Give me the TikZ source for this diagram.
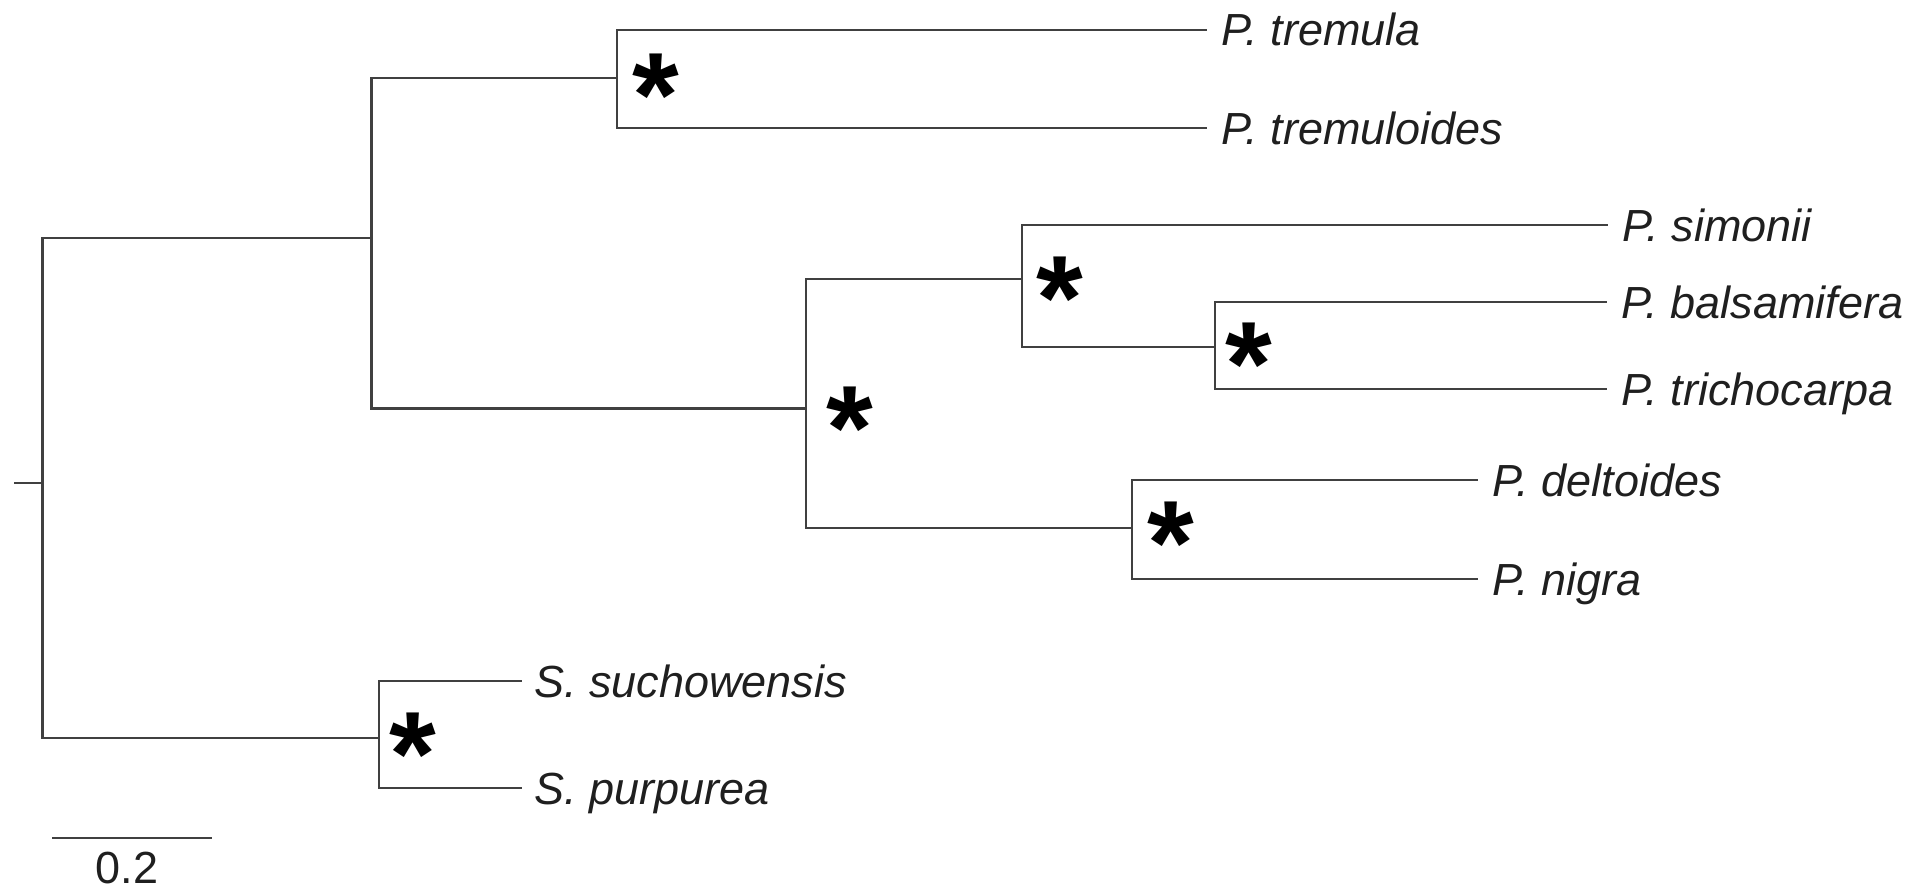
\documentclass[tikz,border=0pt]{standalone}
\usepackage{fontspec}
\setmainfont{Liberation Sans}
\usetikzlibrary{calc}
\begin{document}
\begin{tikzpicture}[x=0.5pt,y=-0.5pt,
  branch/.style={draw=black!75, line width=1.2pt},
  taxon/.style={anchor=base west, inner sep=0pt, text=black!88,
    font=\fontsize{22.5}{22.5}\selectfont\itshape},
  support/.style={anchor=base, inner sep=0pt,
    font=\fontsize{60}{60}\selectfont\bfseries},
  scalelabel/.style={anchor=base, inner sep=0pt, text=black!88,
    font=\fontsize{22.5}{22.5}\selectfont}]
\useasboundingbox (0,0) rectangle (1927,894);

% internal nodes (x = depth, y = attachment height)
\coordinate (stub) at (14,483);
\coordinate (R) at (42.4,483);
\coordinate (A) at (371.4,237.7);
\coordinate (B) at (617,77.7);
\coordinate (D) at (806,408.3);
\coordinate (E) at (1022,279);
\coordinate (F) at (1215,347);
\coordinate (G) at (1132,528);
\coordinate (S) at (379,738);

% leaf tips
\coordinate (tTrem) at (1207,30);
\coordinate (tTremd) at (1207,128);
\coordinate (tSim) at (1608,225);
\coordinate (tBal) at (1607,302);
\coordinate (tTri) at (1607,389);
\coordinate (tDel) at (1478,480);
\coordinate (tNig) at (1478,579);
\coordinate (tSuc) at (522,681);
\coordinate (tPur) at (522,788);

% branches
\draw[branch] (stub) -- (R);
\draw[branch] (R) |- (A);
\draw[branch] (R) |- (S);
\draw[branch] (A) |- (B);
\draw[branch] (A) |- (D);
\draw[branch] (B) |- (tTrem);
\draw[branch] (B) |- (tTremd);
\draw[branch] (D) |- (E);
\draw[branch] (D) |- (G);
\draw[branch] (E) |- (tSim);
\draw[branch] (E) |- (F);
\draw[branch] (F) |- (tBal);
\draw[branch] (F) |- (tTri);
\draw[branch] (G) |- (tDel);
\draw[branch] (G) |- (tNig);
\draw[branch] (S) |- (tSuc);
\draw[branch] (S) |- (tPur);

% taxon labels, set just right of each tip
\node[taxon] (lTrem) at ($(tTrem)+(14,16)$) {P. tremula};
\node[taxon] (lTremd) at ($(tTremd)+(14,16)$) {P. tremuloides};
\node[taxon] (lSim) at ($(tSim)+(14,16)$) {P. simonii};
\node[taxon] (lBal) at ($(tBal)+(14,16)$) {P. balsamifera};
\node[taxon] (lTri) at ($(tTri)+(14,16)$) {P. trichocarpa};
\node[taxon] (lDel) at ($(tDel)+(14,16)$) {P. deltoides};
\node[taxon] (lNig) at ($(tNig)+(14,16)$) {P. nigra};
\node[taxon] (lSuc) at ($(tSuc)+(12,16)$) {S. suchowensis};
\node[taxon] (lPur) at ($(tPur)+(12,16)$) {S. purpurea};

% support marks
\node[support] (sB) at (656,136) {*};
\node[support] (sE) at (1060,339) {*};
\node[support] (sF) at (1249,405) {*};
\node[support] (sD) at (850,469) {*};
\node[support] (sG) at (1171,584) {*};
\node[support] (sS) at (413,795) {*};

% scale bar
\coordinate (sb1) at (52,838);
\coordinate (sb2) at (212,838);
\draw[branch] (sb1) -- (sb2);
\node[scalelabel] (sbl) at (127,883) {0.2};
\end{tikzpicture}
\end{document}
